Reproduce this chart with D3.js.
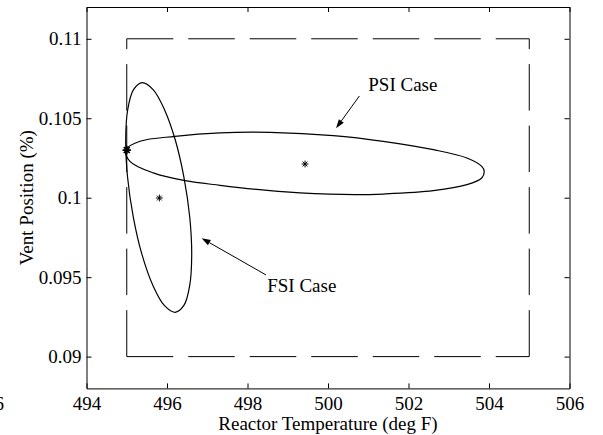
<!DOCTYPE html>
<html><head><meta charset="utf-8">
<script src="https://cdn.jsdelivr.net/npm/d3@7"></script>
<style>
body{margin:0;background:#fff}
text{font-family:"Liberation Serif","Times New Roman",serif;fill:#000}
</style>
</head><body>
<svg id="chart" width="603" height="435"></svg>
<script>
// ---------- data ----------
const xDomain = [494, 506];
const yDomain = [0.088, 0.112];
const xTicks = [494, 496, 498, 500, 502, 504, 506];
const xTickLabels = ["494", "496", "498", "500", "502", "504", "506"];
const yTicks = [0.09, 0.095, 0.1, 0.105, 0.11];
const yTickLabels = ["0.09", "0.095", "0.1", "0.105", "0.11"];
const xLabel = "Reactor Temperature (deg F)";
const yLabel = "Vent Position (%)";

// operating bounds (dashed box): [x1,y1,x2,y2]
const boundLines = [
  [495, 0.09, 505, 0.09],
  [495, 0.11, 505, 0.11],
  [495, 0.09, 495, 0.11],
  [505, 0.09, 505, 0.11]
];

// FSI ellipse outline (temperature, vent position)
const fsiEllipse = [
  [495.386, 0.10724], [495.655, 0.10680], [495.938, 0.10554], [496.206, 0.10363],
  [496.422, 0.10127], [496.566, 0.09875], [496.614, 0.09640], [496.564, 0.09448],
  [496.420, 0.09322], [496.201, 0.09279], [495.933, 0.09322], [495.650, 0.09448],
  [495.381, 0.09640], [495.165, 0.09875], [495.021, 0.10127], [494.974, 0.10363],
  [495.024, 0.10554], [495.168, 0.10680]
];

// PSI ellipse outline
const psiEllipse = [
  [494.98, 0.10302], [495.33, 0.10355], [496.20, 0.10386], [497.32, 0.10408],
  [498.56, 0.10411], [500.13, 0.10391], [501.37, 0.10355], [502.62, 0.10302],
  [503.45, 0.10250], [503.82, 0.10197], [503.88, 0.10166], [503.82, 0.10124],
  [503.45, 0.10082], [502.62, 0.10044], [501.37, 0.10023], [500.67, 0.10019],
  [499.30, 0.10030], [498.56, 0.10044], [497.32, 0.10078], [496.45, 0.10107],
  [495.66, 0.10156], [495.08, 0.10229]
];

const centerPoints = [[499.43, 0.10212], [495.81, 0.09998]];
const nominalPoint = [[495.0, 0.1030]];

// annotations: text, text anchor (x,y), arrow from (x,y) to tip (x,y)
const annotations = [
  {text: "PSI Case", tx: 501.0, ty: 0.1067, ax: 500.78, ay: 0.1064, bx: 500.20, by: 0.10437},
  {text: "FSI Case", tx: 498.49, ty: 0.09409, ax: 498.46, ay: 0.09514, bx: 496.86, by: 0.09745}
];

// ---------- drawing ----------
const svg = d3.select("#chart");
const PL = 86.5, PR = 569.5, PT = 7, PB = 388.4;
const x = d3.scaleLinear().domain(xDomain).range([PL, PR]);
const y = d3.scaleLinear().domain(yDomain).range([PB, PT]);
const FS = 19;

// dashed bounds
svg.append("g").selectAll("line").data(boundLines).join("line")
  .attr("x1", d => x(d[0])).attr("y1", d => y(d[1]))
  .attr("x2", d => x(d[2])).attr("y2", d => y(d[3]))
  .attr("stroke", "#000").attr("stroke-width", 1)
  .attr("stroke-dasharray", "46.5,15").attr("fill", "none");

// ellipses
const outline = d3.line().x(d => x(d[0])).y(d => y(d[1])).curve(d3.curveCatmullRomClosed.alpha(0.5));
svg.append("g").selectAll("path").data([fsiEllipse, psiEllipse]).join("path")
  .attr("d", outline).attr("fill", "none").attr("stroke", "#000").attr("stroke-width", 1.2);

// asterisk marker path
function asterisk(r) {
  const d = r * Math.SQRT1_2;
  return `M${-r},0L${r},0M0,${-r}L0,${r}M${-d},${-d}L${d},${d}M${-d},${d}L${d},${-d}`;
}
svg.append("g").selectAll("path").data(centerPoints).join("path")
  .attr("transform", d => `translate(${x(d[0])},${y(d[1])})`)
  .attr("d", asterisk(3.4)).attr("stroke", "#000").attr("stroke-width", 1).attr("fill", "none");
svg.append("g").selectAll("path").data(nominalPoint).join("path")
  .attr("transform", d => `translate(${x(d[0])},${y(d[1])})`)
  .attr("d", asterisk(4.2)).attr("stroke", "#000").attr("stroke-width", 1.7).attr("fill", "none");

// annotations
const ann = svg.append("g");
annotations.forEach(a => {
  const x1 = x(a.ax), y1 = y(a.ay), x2 = x(a.bx), y2 = y(a.by);
  const ang = Math.atan2(y2 - y1, x2 - x1);
  const hl = 9, hw = 3;
  const bxp = x2 - hl * Math.cos(ang), byp = y2 - hl * Math.sin(ang);
  ann.append("line").attr("x1", x1).attr("y1", y1).attr("x2", bxp).attr("y2", byp)
    .attr("stroke", "#000").attr("stroke-width", 1);
  const px = -Math.sin(ang) * hw, py = Math.cos(ang) * hw;
  ann.append("path")
    .attr("d", `M${x2},${y2}L${bxp + px},${byp + py}L${bxp - px},${byp - py}Z`)
    .attr("fill", "#000");
  ann.append("text").attr("x", x(a.tx)).attr("y", y(a.ty))
    .attr("font-size", FS).text(a.text);
});

// axes
const axB = d3.axisBottom(x).tickValues(xTicks).tickFormat((d, i) => xTickLabels[i])
  .tickSizeInner(-5).tickSizeOuter(0).tickPadding(8);
const axT = d3.axisTop(x).tickValues(xTicks).tickFormat("").tickSizeInner(-5).tickSizeOuter(0);
const axL = d3.axisLeft(y).tickValues(yTicks).tickFormat((d, i) => yTickLabels[i])
  .tickSizeInner(-5).tickSizeOuter(0).tickPadding(5);
const axR = d3.axisRight(y).tickValues(yTicks).tickFormat("").tickSizeInner(-5).tickSizeOuter(0);

function styleAxis(g) {
  g.selectAll("path.domain").attr("stroke", "#000").attr("stroke-width", 1);
  g.selectAll(".tick line").attr("stroke", "#000").attr("stroke-width", 1);
  g.selectAll("text").attr("font-size", FS).attr("font-family", '"Liberation Serif","Times New Roman",serif').attr("fill", "#000");
}
svg.append("g").attr("transform", `translate(0,${PB})`).call(axB).call(styleAxis);
svg.append("g").attr("transform", `translate(0,${PT})`).call(axT).call(styleAxis);
svg.append("g").attr("transform", `translate(${PL},0)`).call(axL).call(styleAxis);
svg.append("g").attr("transform", `translate(${PR},0)`).call(axR).call(styleAxis);

// axis labels
svg.append("text").attr("x", (PL + PR) / 2).attr("y", 430).attr("text-anchor", "middle")
  .attr("font-size", FS).text(xLabel);
svg.append("text").attr("transform", `translate(33,${(PT + PB) / 2}) rotate(-90)`)
  .attr("text-anchor", "middle").attr("font-size", FS).text(yLabel);

// clipped tick label remnant at the far left edge of the original figure
svg.append("text").attr("x", 4).attr("y", 410).attr("text-anchor", "end")
  .attr("font-size", FS).text("506");
</script>
</body></html>
